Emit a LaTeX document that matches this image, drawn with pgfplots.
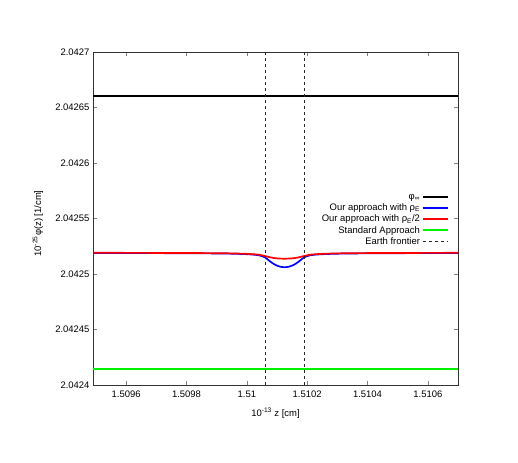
\documentclass[border=0pt]{standalone}
\usepackage{fontspec}
\setmainfont{Liberation Sans}
\usepackage{pgfplots}
\pgfplotsset{compat=1.18}
\definecolor{lgreen}{RGB}{0,240,0}
\definecolor{pblue}{RGB}{0,0,255}
\definecolor{pred}{RGB}{255,0,0}
\begin{document}
\begin{tikzpicture}
\path[use as bounding box] (0,0) rectangle (518bp,463bp);
\begin{axis}[
  at={(93bp,78bp)}, anchor=south west,
  width=365bp, height=333bp, scale only axis,
  xmin=1.50949, xmax=1.5107, ymin=2.0424, ymax=2.0427,
  xtick={1.5096,1.5098,1.51,1.5102,1.5104,1.5106},
  xticklabels={1.5096,1.5098,1.51,1.5102,1.5104,1.5106},
  ytick={2.0424,2.04245,2.0425,2.04255,2.0426,2.04265,2.0427},
  yticklabels={2.0424,2.04245,2.0425,2.04255,2.0426,2.04265,2.0427},
  font=\fontsize{9.5}{11}\selectfont,
  ticklabel style={font=\fontsize{9.5}{11}\selectfont},
  /pgf/number format/assume math mode=true,
  tick align=inside, major tick length=4bp,
  tick style={black!50, line width=0.6pt},
  axis line style={black!80, line width=0.9pt},
  xticklabel style={yshift=-2bp},
  xlabel={10\textsuperscript{-13} z [cm]},
  ylabel={10\textsuperscript{-25}φ(z) [1/cm]},
  xlabel style={at={(axis description cs:0.5,-0.084)}, anchor=center},
  ylabel style={at={(axis description cs:-0.151,0.485)}, anchor=center},
  legend plot pos=right, legend cell align=right,
  legend style={draw=white, fill=none, at={(axis description cs:0.984,0.586)}, anchor=north east, row sep=-1bp, font=\fontsize{9.5}{11}\selectfont},
  legend image code/.code={\draw[mark repeat=2,mark phase=2,#1] (0bp,0bp) -- (12bp,0bp) -- (25bp,0bp);},
]
\addplot[draw=black, line width=1.8pt] coordinates {(1.50949,2.04266) (1.5107,2.04266)};
\addlegendentry{φ\textsubscript{∞}}
\addplot[draw=pblue, line width=1.7pt, smooth] coordinates {
(1.50949,2.0425189) (1.509605,2.04251885) (1.5098,2.0425187) (1.50993,2.0425184)
(1.509995,2.0425179) (1.5100275,2.0425173) (1.51004375,2.0425166) (1.51006,2.042515)
(1.51007625,2.0425115) (1.5100925,2.0425085) (1.51010875,2.0425067) (1.510125,2.0425061)
(1.51014125,2.0425067) (1.5101575,2.0425085) (1.51017375,2.0425115) (1.51019,2.042515)
(1.51020625,2.0425166) (1.5102225,2.0425173) (1.510255,2.0425179) (1.51032,2.0425184)
(1.51045,2.0425187) (1.510645,2.04251885) (1.5107,2.0425189)};
\addlegendentry{Our approach with ρ\textsubscript{E}}
\addplot[draw=pred, line width=1.7pt, smooth] coordinates {
(1.50949,2.0425191) (1.509605,2.04251905) (1.5098,2.0425189) (1.50993,2.04251865)
(1.509995,2.0425182) (1.5100275,2.0425177) (1.51004375,2.0425172) (1.51006,2.0425162)
(1.51007625,2.0425151) (1.5100925,2.0425143) (1.51010875,2.0425139) (1.510125,2.0425138)
(1.51014125,2.0425139) (1.5101575,2.0425143) (1.51017375,2.0425151) (1.51019,2.0425162)
(1.51020625,2.0425172) (1.5102225,2.0425177) (1.510255,2.0425182) (1.51032,2.04251865)
(1.51045,2.0425189) (1.510645,2.04251905) (1.5107,2.0425191)};
\addlegendentry{Our approach with ρ\textsubscript{E}/2}
\addplot[draw=lgreen, line width=2pt] coordinates {(1.50949,2.042414) (1.51,2.042414) (1.5107,2.042414)};
\addlegendentry{Standard Approach}
\addplot[draw=black!85, line width=0.7pt, dash pattern=on 3bp off 3bp, unbounded coords=jump] coordinates {(1.51006,2.0424) (1.51006,2.0427) (nan,nan) (1.51019,2.0424) (1.51019,2.0427)};
\addlegendentry{Earth frontier}
\end{axis}
\end{tikzpicture}
\end{document}
